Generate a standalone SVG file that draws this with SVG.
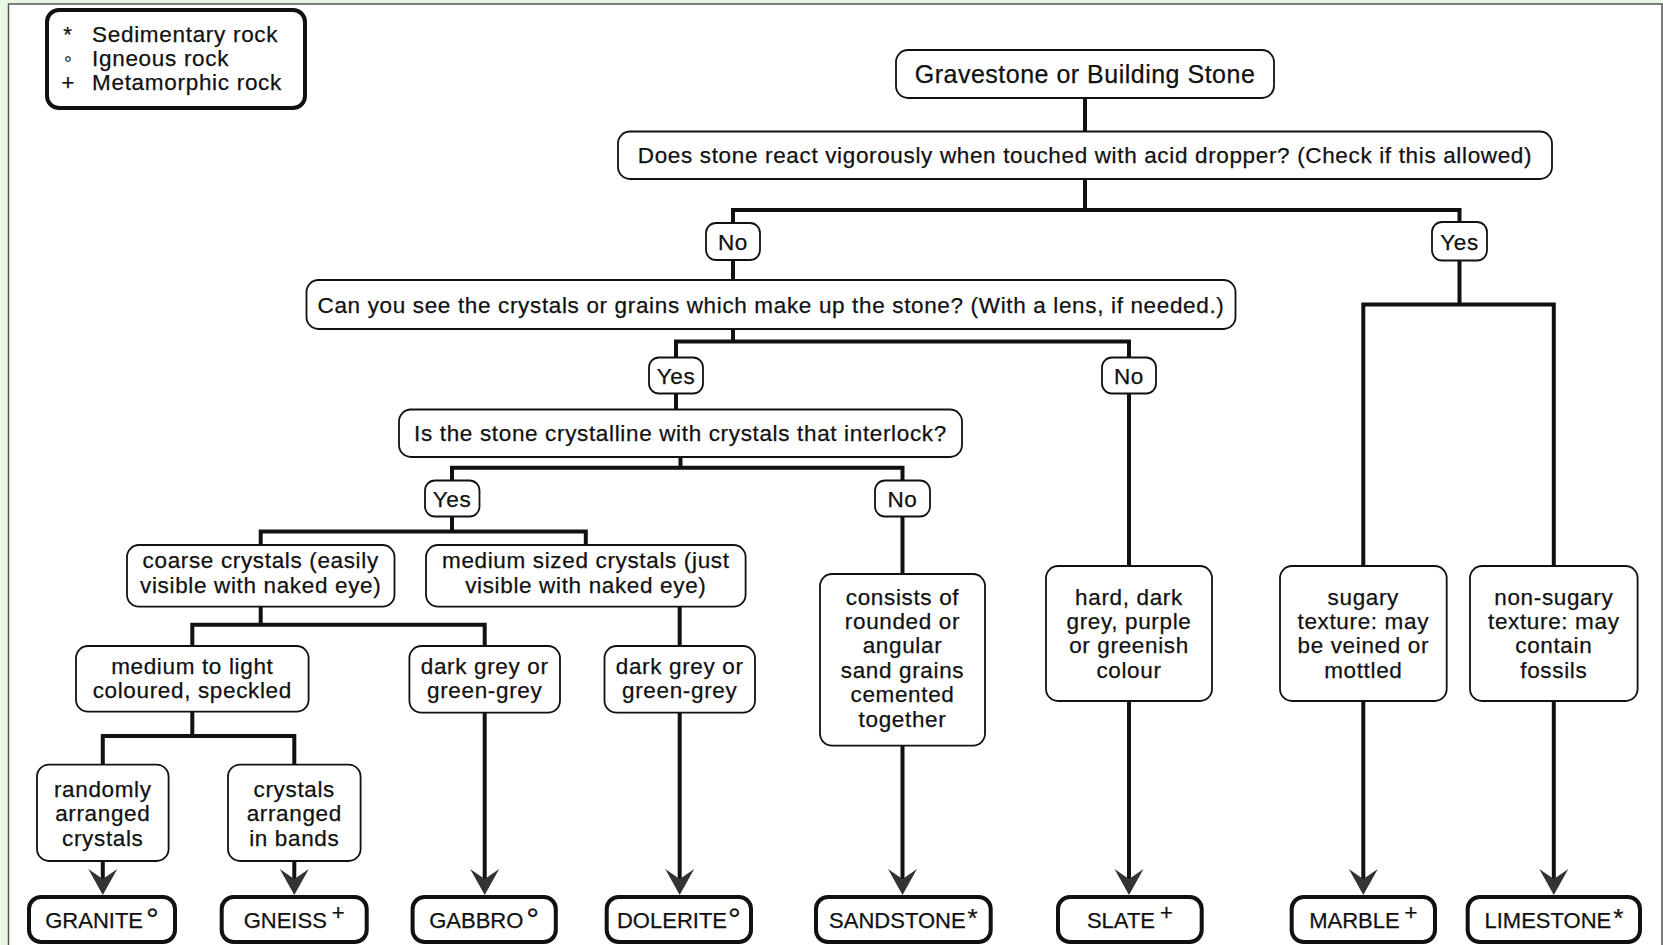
<svg xmlns="http://www.w3.org/2000/svg" width="1663" height="945" viewBox="0 0 1663 945">
<style>
.t{font-family:"Liberation Sans",Arial,Helvetica,sans-serif;font-size:22.5px;letter-spacing:0.65px;fill:#111;stroke:#111;stroke-width:0.25;text-anchor:middle}
.big{font-size:25px;letter-spacing:0.5px}
.tm{font-family:"Liberation Sans",Arial,Helvetica,sans-serif;font-size:22px;fill:#111;stroke:#111;stroke-width:0.25;text-anchor:middle}
.lg{font-family:"Liberation Sans",Arial,Helvetica,sans-serif;font-size:22.5px;letter-spacing:0.7px;fill:#111;stroke:#111;stroke-width:0.25}
.mk{font-family:"Liberation Sans","DejaVu Sans",Arial,sans-serif;font-size:22px;fill:#111;stroke:#111;stroke-width:0.25;text-anchor:middle}
.box{fill:#fff;stroke:#111;stroke-width:1.8}
.term{fill:#fff;stroke:#111;stroke-width:4}
.c{fill:none;stroke:#111;stroke-width:4}
.deg{font-size:32px}
.plus{font-size:22px}
.ast{font-size:26px}
</style>
<defs>
<marker id="arr" viewBox="-27 -15 28 30" refX="-15" refY="0" markerWidth="28" markerHeight="30" markerUnits="userSpaceOnUse" orient="auto">
<path d="M0,0 L-26,-14.5 L-16,0 L-26,14.5 Z" fill="#333"/>
</marker>
</defs>
<rect x="0" y="0" width="1663" height="945" fill="#e8f7e2"/>
<rect x="8.5" y="4" width="1653.5" height="960" fill="#fff" stroke="#555" stroke-width="1.5"/>

<g id="connectors">
<path class="c" d="M1085 98 V131.5"/>
<path class="c" d="M1085 179 V210"/>
<path class="c" d="M733 223 V210 H1459.5 V222"/>
<path class="c" d="M733 260 V280"/>
<path class="c" d="M733 329 V341.5"/>
<path class="c" d="M676 357.5 V341.5 H1129 V357.5"/>
<path class="c" d="M676 393.5 V409.5"/>
<path class="c" d="M680.5 457 V467.7"/>
<path class="c" d="M452 480.5 V467.7 H902.5 V480.5"/>
<path class="c" d="M452 516.5 V531.4"/>
<path class="c" d="M260.7 545 V531.4 H585.8 V545"/>
<path class="c" d="M260.7 606.7 V624.7"/>
<path class="c" d="M192.3 646 V624.7 H484.7 V646"/>
<path class="c" d="M679.7 606.7 V646"/>
<path class="c" d="M192.3 711.7 V736"/>
<path class="c" d="M102.8 764.7 V736 H294.3 V764.7"/>
<path class="c" d="M902.5 516.5 V574"/>
<path class="c" d="M1129 393.5 V566"/>
<path class="c" d="M1459.5 260.5 V304.4"/>
<path class="c" d="M1363.3 566 V304.4 H1553.8 V566"/>
<path class="c" d="M102.8 861 V880" marker-end="url(#arr)"/>
<path class="c" d="M294.3 861 V880" marker-end="url(#arr)"/>
<path class="c" d="M484.7 712.7 V880" marker-end="url(#arr)"/>
<path class="c" d="M679.7 712.7 V880" marker-end="url(#arr)"/>
<path class="c" d="M902.5 745.6 V880" marker-end="url(#arr)"/>
<path class="c" d="M1129 701 V880" marker-end="url(#arr)"/>
<path class="c" d="M1363.3 701 V880" marker-end="url(#arr)"/>
<path class="c" d="M1553.8 701 V880" marker-end="url(#arr)"/>
</g>

<g id="legend">
<rect x="47" y="10" width="258" height="98" rx="12" class="term"/>
<text class="mk" x="67.5" y="42">*</text>
<text class="lg" x="92" y="42">Sedimentary rock</text>
<text class="mk" x="68" y="66">◦</text>
<text class="lg" x="92" y="66">Igneous rock</text>
<text class="mk" x="68" y="90">+</text>
<text class="lg" x="92" y="90">Metamorphic rock</text>
</g>

<g id="n-root"><rect class="box" x="896" y="50" width="378" height="48" rx="12"/><text class="t big" x="1085" y="82.5">Gravestone or Building Stone</text></g>
<g id="n-acid"><rect class="box" x="618" y="131.5" width="934" height="47.5" rx="12"/><text class="t" x="1085" y="163">Does stone react vigorously when touched with acid dropper? (Check if this allowed)</text></g>
<g id="n-no1"><rect class="box" x="706" y="223" width="54" height="37" rx="10"/><text class="t" x="733" y="249.5">No</text></g>
<g id="n-yes1"><rect class="box" x="1432" y="222" width="55" height="38.5" rx="10"/><text class="t" x="1459.5" y="249.5">Yes</text></g>
<g id="n-see"><rect class="box" x="306.5" y="280" width="929" height="49" rx="12"/><text class="t" x="771" y="312.5">Can you see the crystals or grains which make up the stone? (With a lens, if needed.)</text></g>
<g id="n-yes2"><rect class="box" x="649" y="357.5" width="54" height="36" rx="10"/><text class="t" x="676" y="383.5">Yes</text></g>
<g id="n-no2"><rect class="box" x="1102" y="357.5" width="54" height="36" rx="10"/><text class="t" x="1129" y="383.5">No</text></g>
<g id="n-interlock"><rect class="box" x="399" y="409.5" width="563" height="47.5" rx="12"/><text class="t" x="680.5" y="441">Is the stone crystalline with crystals that interlock?</text></g>
<g id="n-yes3"><rect class="box" x="425" y="480.5" width="54.5" height="36" rx="10"/><text class="t" x="452" y="506.5">Yes</text></g>
<g id="n-no3"><rect class="box" x="875" y="480.5" width="55" height="36" rx="10"/><text class="t" x="902.5" y="506.5">No</text></g>
<g id="n-coarse"><rect class="box" x="127" y="545" width="267.5" height="61.7" rx="12"/><text class="t" x="260.7" y="568.3">coarse crystals (easily</text><text class="t" x="260.7" y="592.6">visible with naked eye)</text></g>
<g id="n-medium"><rect class="box" x="426" y="545" width="319.6" height="61.7" rx="12"/><text class="t" x="585.8" y="568.3">medium sized crystals (just</text><text class="t" x="585.8" y="592.6">visible with naked eye)</text></g>
<g id="n-light"><rect class="box" x="76" y="646" width="232.6" height="65.7" rx="12"/><text class="t" x="192.3" y="673.5">medium to light</text><text class="t" x="192.3" y="698">coloured, speckled</text></g>
<g id="n-darkgrey1"><rect class="box" x="409.4" y="646" width="150.6" height="66.7" rx="12"/><text class="t" x="484.7" y="673.5">dark grey or</text><text class="t" x="484.7" y="698">green-grey</text></g>
<g id="n-darkgrey2"><rect class="box" x="604.5" y="646" width="150.5" height="66.7" rx="12"/><text class="t" x="679.7" y="673.5">dark grey or</text><text class="t" x="679.7" y="698">green-grey</text></g>
<g id="n-random"><rect class="box" x="37" y="764.7" width="131.6" height="96.3" rx="12"/><text class="t" x="102.8" y="796.5">randomly</text><text class="t" x="102.8" y="821">arranged</text><text class="t" x="102.8" y="845.5">crystals</text></g>
<g id="n-bands"><rect class="box" x="228" y="764.7" width="132.6" height="96.3" rx="12"/><text class="t" x="294.3" y="796.5">crystals</text><text class="t" x="294.3" y="821">arranged</text><text class="t" x="294.3" y="845.5">in bands</text></g>
<g id="n-sand"><rect class="box" x="820" y="574" width="165" height="171.6" rx="12"/><text class="t" x="902.5" y="604.5">consists of</text><text class="t" x="902.5" y="629">rounded or</text><text class="t" x="902.5" y="653.4">angular</text><text class="t" x="902.5" y="677.8">sand grains</text><text class="t" x="902.5" y="702.2">cemented</text><text class="t" x="902.5" y="726.6">together</text></g>
<g id="n-hard"><rect class="box" x="1046" y="566" width="166" height="135" rx="12"/><text class="t" x="1129" y="604.5">hard, dark</text><text class="t" x="1129" y="629">grey, purple</text><text class="t" x="1129" y="653.4">or greenish</text><text class="t" x="1129" y="677.8">colour</text></g>
<g id="n-sugary"><rect class="box" x="1280" y="566" width="166.7" height="135" rx="12"/><text class="t" x="1363.3" y="604.5">sugary</text><text class="t" x="1363.3" y="629">texture: may</text><text class="t" x="1363.3" y="653.4">be veined or</text><text class="t" x="1363.3" y="677.8">mottled</text></g>
<g id="n-nonsugary"><rect class="box" x="1470" y="566" width="167.6" height="135" rx="12"/><text class="t" x="1553.8" y="604.5">non-sugary</text><text class="t" x="1553.8" y="629">texture: may</text><text class="t" x="1553.8" y="653.4">contain</text><text class="t" x="1553.8" y="677.8">fossils</text></g>

<g id="n-granite"><rect class="term" x="29" y="897" width="146" height="45" rx="12"/><text class="tm" x="102" y="928">GRANITE<tspan class="deg" dx="3" dy="2">°</tspan></text></g>
<g id="n-gneiss"><rect class="term" x="221.7" y="897" width="145" height="45" rx="12"/><text class="tm" x="294.2" y="928">GNEISS<tspan class="plus" dx="5" dy="-8">+</tspan></text></g>
<g id="n-gabbro"><rect class="term" x="412.6" y="897" width="143.2" height="45" rx="12"/><text class="tm" x="484.2" y="928">GABBRO<tspan class="deg" dx="3" dy="2">°</tspan></text></g>
<g id="n-dolerite"><rect class="term" x="606.7" y="897" width="144.3" height="45" rx="12"/><text class="tm" x="678.9" y="928">DOLERITE<tspan class="deg" dx="1" dy="2">°</tspan></text></g>
<g id="n-sandstone"><rect class="term" x="816" y="897" width="174.7" height="45" rx="12"/><text class="tm" x="903.4" y="928">SANDSTONE<tspan class="ast" dx="2" dy="-1">*</tspan></text></g>
<g id="n-slate"><rect class="term" x="1058" y="897" width="143.7" height="45" rx="12"/><text class="tm" x="1129.9" y="928">SLATE<tspan class="plus" dx="5" dy="-8">+</tspan></text></g>
<g id="n-marble"><rect class="term" x="1291.7" y="897" width="143.3" height="45" rx="12"/><text class="tm" x="1363.3" y="928">MARBLE<tspan class="plus" dx="5" dy="-8">+</tspan></text></g>
<g id="n-limestone"><rect class="term" x="1467.7" y="897" width="172.3" height="45" rx="12"/><text class="tm" x="1553.9" y="928">LIMESTONE<tspan class="ast" dx="2" dy="-1">*</tspan></text></g>
</svg>
